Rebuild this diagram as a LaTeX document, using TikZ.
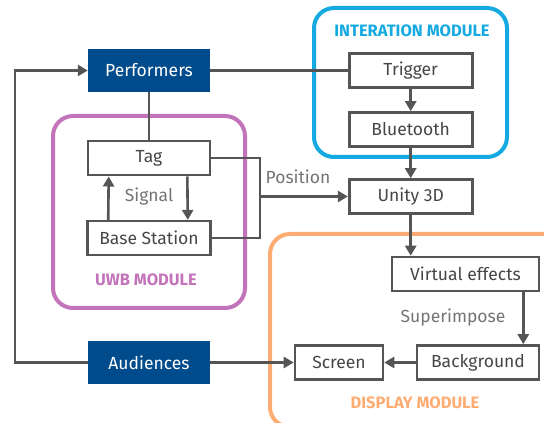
\documentclass[tikz,border=0pt]{standalone}
\usepackage{fontspec}
\setmainfont{Fira Sans}
\usetikzlibrary{arrows.meta, positioning, calc}

\begin{document}
\begin{tikzpicture}[x=1pt, y=1pt,
    font=\fontsize{17.5}{20}\selectfont,
    >={Triangle[length=10pt, width=11pt]},
    box/.style={draw=linegray, line width=2.6pt, fill=white, text=textgray, minimum height=34pt, inner sep=0pt},
    people/.style={fill=navy, text=white, minimum width=122pt, minimum height=43pt, inner sep=0pt},
    module/.style={line width=4pt, rounded corners=20pt},
    modlabel/.style={font=\fontsize{16.5}{18}\selectfont\bfseries},
    wire/.style={draw=linegray, line width=2.6pt},
    note/.style={text=notegray}]
    % Colours
    \definecolor{navy}{RGB}{0,75,140}
    \definecolor{linegray}{RGB}{85,85,85}
    \definecolor{textgray}{RGB}{70,70,70}
    \definecolor{notegray}{RGB}{115,115,115}
    \definecolor{intcolor}{RGB}{20,170,225}
    \definecolor{uwbcolor}{RGB}{195,115,185}
    \definecolor{dispcolor}{RGB}{255,172,115}

    \clip (0,0) rectangle (544,423);

    % Modules
    \draw[module, draw=intcolor] (314,266) rectangle (507,415);
    \node[modlabel, text=intcolor] (intlab) at (412,392) {INTERATION MODULE};
    \draw[module, draw=uwbcolor] (53,115) rectangle (245,307);
    \node[modlabel, text=uwbcolor] (uwblab) at (146,143) {UWB MODULE};
    \draw[module, draw=dispcolor] (270,-4) rectangle (570,189);
    \node[modlabel, text=dispcolor] (displab) at (415,20) {DISPLAY MODULE};

    % People
    \node[people] (perf) at (149,352.5) {Performers};
    \node[people] (aud) at (149,60.5) {Audiences};

    % UWB
    \node[box, minimum width=122pt, below=47.7pt of perf] (tag) {Tag};
    \node[box, minimum width=123pt, below=43.4pt of tag] (base) {Base Station};

    % Interaction
    \node[box, minimum width=123pt, right=137.7pt of perf] (trig) {Trigger};
    \node[box, minimum width=123pt, below=22.4pt of trig] (bt) {Bluetooth};
    \node[box, minimum width=123pt, below=30.4pt of bt] (unity) {Unity 3D};

    % Display
    \node[box, minimum width=147pt] (virt) at (465.5,149) {Virtual effects};
    \node[box, minimum width=122pt] (bg) at (478,60.5) {Background};
    \node[box, minimum width=88pt, left=31.4pt of bg] (screen) {Screen};

    % Connections
    \coordinate (loop) at (15,0);
    \coordinate (junc) at (260,0);
    \draw[wire, ->] (aud.west) -- (aud.west -| loop) -- (perf.west -| loop) -- (perf.west);
    \draw[wire] (perf.east) -- (trig.west);
    \draw[wire] (perf) -- (tag);
    \draw[wire, ->] (trig) -- (bt);
    \draw[wire, ->] (bt) -- (unity);
    \draw[wire, ->] ([xshift=-24pt]tag.south east) -- ([xshift=-24pt]base.north east);
    \draw[wire, ->] ([xshift=22pt]base.north west) -- ([xshift=22pt]tag.south west);
    \draw[wire] (tag.east) -- (tag.east -| junc) -- (base.east -| junc) -- (base.east);
    \draw[wire, ->] (unity.west -| junc) -- (unity.west);
    \draw[wire, ->] (unity.south) -- (unity.south |- virt.north);
    \draw[wire, ->] ([xshift=-17pt]virt.south east) -- ([xshift=-17pt]virt.south east |- bg.north);
    \draw[wire, ->] (bg) -- (screen);
    \draw[wire, ->] (aud.east) -- (screen.west);

    % Labels
    \node[note] (posn) at (298,246) {Position};
    \node[note] (sig) at (149,226) {Signal};
    \node[note] (sup) at (453,105) {Superimpose};
\end{tikzpicture}
\end{document}
